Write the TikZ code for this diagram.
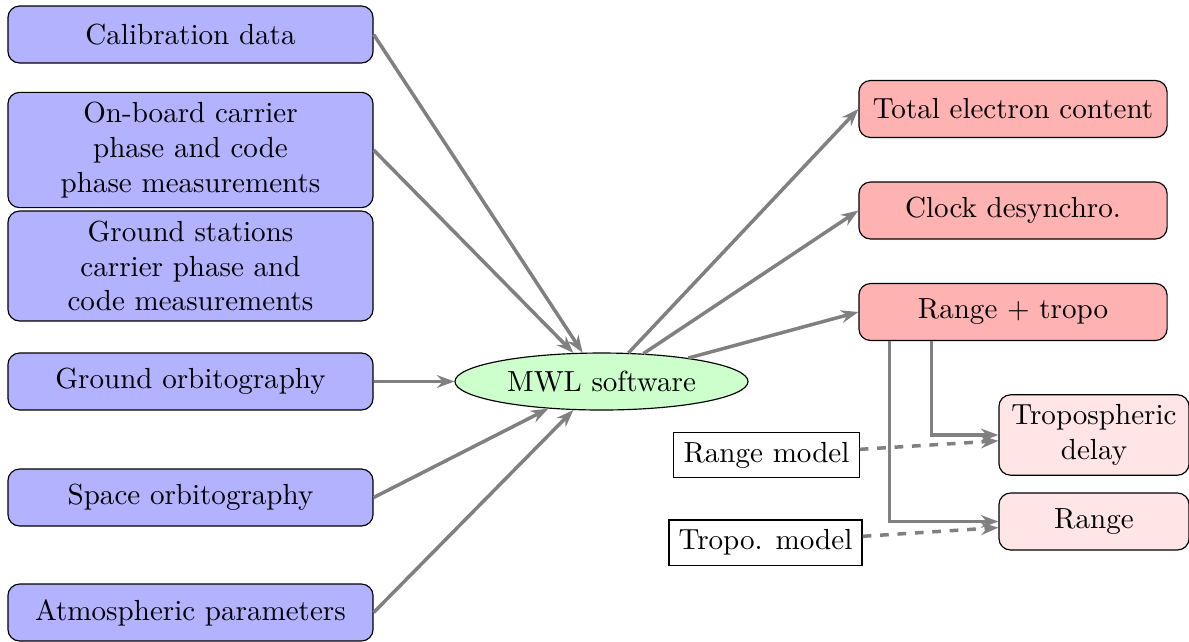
\documentclass[tikz,border=0pt]{standalone}
\usetikzlibrary{shapes.geometric,arrows.meta,calc}
\begin{document}
\begin{tikzpicture}[x=0.344pt,y=-0.344pt,
  inbox/.style={draw, rounded corners=4pt, fill=blue!30, align=center, minimum width=125.6pt, minimum height=19.6pt},
  outbox/.style={draw, rounded corners=4pt, fill=red!30, align=center, minimum width=106pt, minimum height=19.6pt},
  subbox/.style={draw, rounded corners=4pt, fill=red!10, align=center, minimum width=65.4pt, minimum height=19.6pt},
  modelbox/.style={draw, fill=white},
  core/.style={draw, ellipse, fill=green!20, minimum width=100.8pt, minimum height=19.6pt, inner sep=0pt},
  flow/.style={draw=gray, line width=1.2pt, -{Stealth[length=6pt,width=4.4pt,inset=2pt]}},
  dflow/.style={flow, dashed}]
\useasboundingbox (0,0) rectangle (1189,641);
\node[inbox] (cal) at (190.5,34.5) {Calibration data};
\node[inbox] (onb) at (190.5,150) {On-board carrier\\ phase and code\\ phase measurements};
\node[inbox] (gst) at (190.5,266) {Ground stations\\ carrier phase and\\ code measurements};
\node[inbox] (gorb) at (190.5,381.5) {Ground orbitography};
\node[inbox] (sorb) at (190.5,497.5) {Space orbitography};
\node[inbox] (atm) at (190.5,612.5) {Atmospheric parameters};
\node[core] (mwl) at (601.5,381.5) {MWL software};
\node[outbox] (tec) at (1013,109) {Total electron content};
\node[outbox] (clk) at (1013,210.5) {Clock desynchro.};
\node[outbox] (rt) at (1013,312) {Range + tropo};
\node[subbox] (td) at (1094,435) {Tropospheric\\ delay};
\node[subbox] (rg) at (1094,521.5) {Range};
\node[modelbox] (rm) at (766.5,455) {Range model};
\node[modelbox] (tm) at (765.5,542.5) {Tropo. model};
\coordinate (rtA) at ($(rt.south west)+(73,0)$);
\coordinate (rtB) at ($(rt.south west)+(31,0)$);
\draw[flow] (cal.east) -- (mwl);
\draw[flow] (onb.east) -- (mwl);
\draw[flow] (gorb.east) -- (mwl);
\draw[flow] (sorb.east) -- (mwl);
\draw[flow] (atm.east) -- (mwl);
\draw[flow] (mwl) -- (tec.west);
\draw[flow] (mwl) -- (clk.west);
\draw[flow] (mwl) -- (rt.west);
\draw[flow] (rtA) |- (td.west);
\draw[flow] (rtB) |- (rg.west);
\draw[dflow] (rm) -- (td);
\draw[dflow] (tm) -- (rg);
\end{tikzpicture}
\end{document}
